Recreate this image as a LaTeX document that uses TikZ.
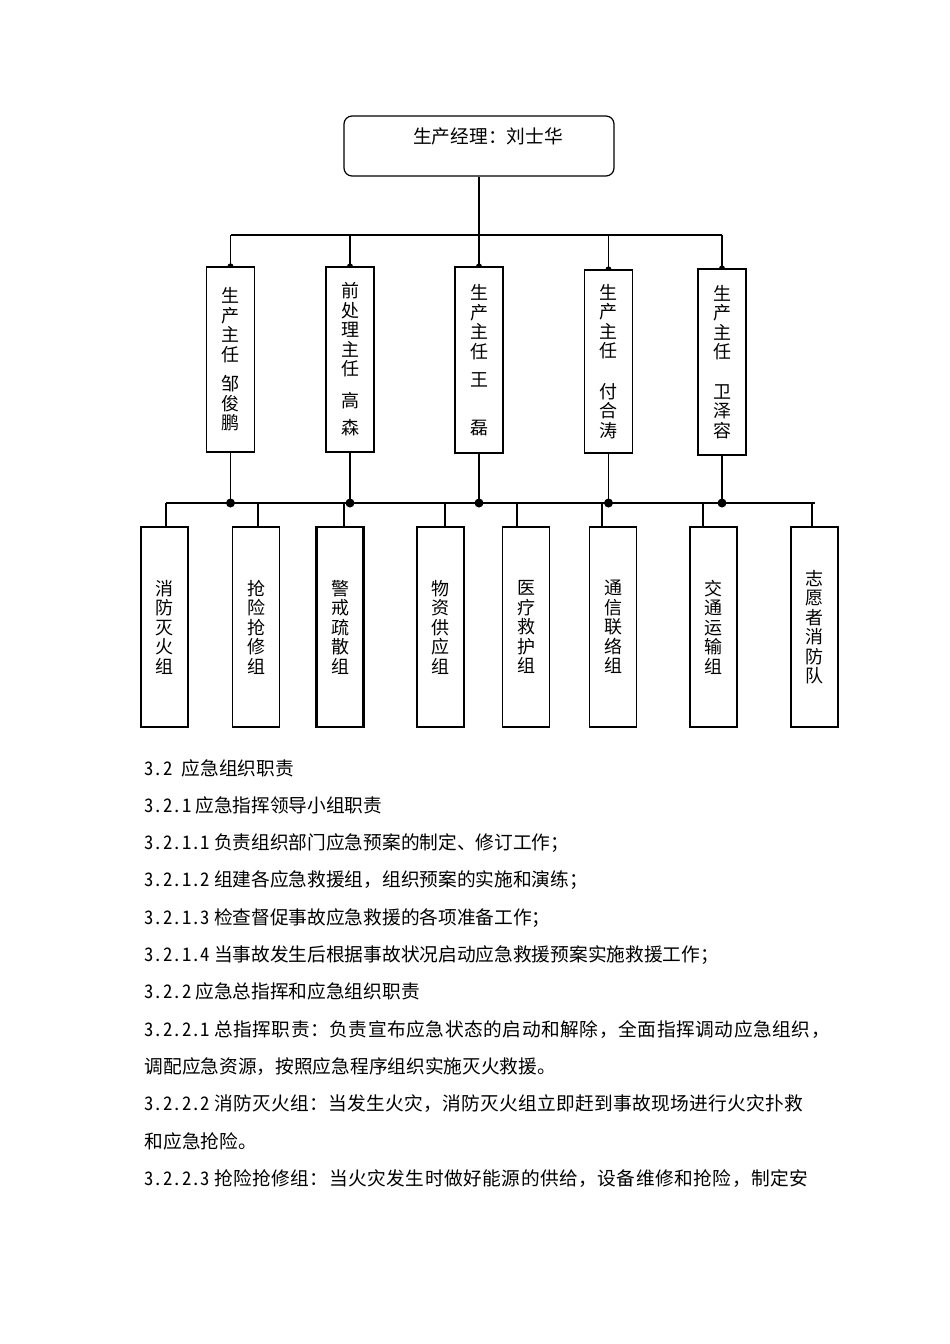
\documentclass[tikz,border=0pt]{standalone}
\usepackage{fontspec}
\setmainfont{Noto Sans CJK SC}
\newfontfamily\numfont{Noto Sans CJK SC}[RawFeature=+hwid]
\newcommand\secno[1]{{\numfont #1}\hspace{4pt}}
\newcommand\spread[1]{\addfontfeature{LetterSpace=#1}}

\begin{document}
\begin{tikzpicture}[x=1pt, y=-1pt, line width=1.2pt,
    leader/.style={draw, rounded corners=8pt, minimum width=270pt, minimum height=60pt, inner sep=0pt},
    chief/.style={draw, fill=white, minimum width=48pt, inner sep=0pt, align=center,
      font=\fontsize{18}{19.5}\selectfont},
    team/.style={draw, fill=white, minimum width=47pt, minimum height=200pt, inner sep=0pt, align=center,
      font=\fontsize{18}{19.5}\selectfont},
    heavy/.style={line width=2.2pt},
    para/.style={anchor=base west, inner sep=0pt, font=\fontsize{18.7}{18.7}\selectfont}]
  \useasboundingbox (0,0) rectangle (950,1344);

  % production manager
  \node[leader] (mgr) at (479,146) {};
  \node[inner sep=0pt, font=\fontsize{18.7}{18.7}\selectfont] (mgrname) at (488,136) {生产经理：刘士华};

  % shift chiefs
  \node[chief, minimum height=185pt] (c1) at (230.5,359.5) {生\\产\\主\\任\\[10pt]邹\\俊\\鹏};
  \node[chief, minimum height=185pt] (c2) at (350,359.5) {前\\处\\理\\主\\任\\[12pt]高\\[8pt]森};
  \node[chief, minimum height=186pt] (c3) at (479,360) {生\\产\\主\\任\\[9pt]王\\[28pt]磊};
  \node[chief, minimum height=183pt] (c4) at (608.5,361.5) {生\\产\\主\\任\\[21pt]付\\合\\涛};
  \node[chief, minimum height=186pt] (c5) at (722,362) {生\\产\\主\\任\\[20pt]卫\\泽\\容};

  % emergency teams
  \node[team] (t1) at (164.5,627) {消\\防\\灭\\火\\组};
  \node[team] (t2) at (256,627) {抢\\险\\抢\\修\\组};
  \node[team, heavy] (t3) at (340,627) {警\\戒\\疏\\散\\组};
  \node[team] (t4) at (440.5,627) {物\\资\\供\\应\\组};
  \node[team] (t5) at (526,627) {医\\疗\\救\\护\\组};
  \node[team] (t6) at (613,627) {通\\信\\联\\络\\组};
  \node[team, heavy] (t7) at (713.5,627) {交\\通\\运\\输\\组};
  \node[team, heavy] (t8) at (814.5,627) {志\\愿\\者\\消\\防\\队};

  % upper bus
  \coordinate (topL) at (231,235);
  \coordinate (topR) at (722,235);
  \draw (mgr.south) -- (mgr.south |- topL);
  \draw (topL) -- (topR);
  \foreach \c in {c1,c2,c3,c4,c5} {
    \draw (\c.north) -- (\c.north |- topL);
    \fill ([xshift=-3pt]\c.north) arc[start angle=180, end angle=0, radius=3pt] -- cycle;
  }

  % lower bus
  \coordinate (botL) at (166,503);
  \coordinate (botR) at (815,503);
  \draw (botL) -- (botR);
  \foreach \c in {c1,c2,c3,c4,c5} {
    \draw (\c.south) -- (\c.south |- botL);
    \fill (\c.south |- botL) circle (4.5pt);
  }
  \foreach \t/\s in {t1/1.5, t2/2, t3/4, t4/4.5, t5/-9, t6/-11, t7/-10.5, t8/-2.5}
    \draw ([xshift=\s pt]\t.north) -- ([xshift=\s pt]\t.north |- botL);

  % duties text
  \node[para] (p0) at (144,775) {\secno{3.2}\hspace{5pt}应急组织职责};
  \node[para] (p1) at (144,812.3) {\secno{3.2.1}应急指挥领导小组职责};
  \node[para] (p2) at (144,849.6) {\secno{3.2.1.1}负责组织部门应急预案的制定、修订工作；};
  \node[para] (p3) at (144,886.9) {\secno{3.2.1.2}组建各应急救援组，组织预案的实施和演练；};
  \node[para] (p4) at (144,924.2) {\secno{3.2.1.3}检查督促事故应急救援的各项准备工作；};
  \node[para] (p5) at (144,961.5) {\secno{3.2.1.4}当事故发生后根据事故状况启动应急救援预案实施救援工作；};
  \node[para] (p6) at (144,998.8) {\secno{3.2.2}应急总指挥和应急组织职责};
  \node[para] (p7) at (144,1036.1) {\spread{3}\secno{3.2.2.1}总指挥职责：负责宣布应急状态的启动和解除，全面指挥调动应急组织，};
  \node[para] (p8) at (144,1073.4) {调配应急资源，按照应急程序组织实施灭火救援。};
  \node[para] (p9) at (144,1110.7) {\spread{1.7}\secno{3.2.2.2}消防灭火组：当发生火灾，消防灭火组立即赶到事故现场进行火灾扑救};
  \node[para] (p10) at (144,1148) {和应急抢险。};
  \node[para] (p11) at (144,1185.3) {\spread{2.6}\secno{3.2.2.3}抢险抢修组：当火灾发生时做好能源的供给，设备维修和抢险，制定安};
\end{tikzpicture}
\end{document}
